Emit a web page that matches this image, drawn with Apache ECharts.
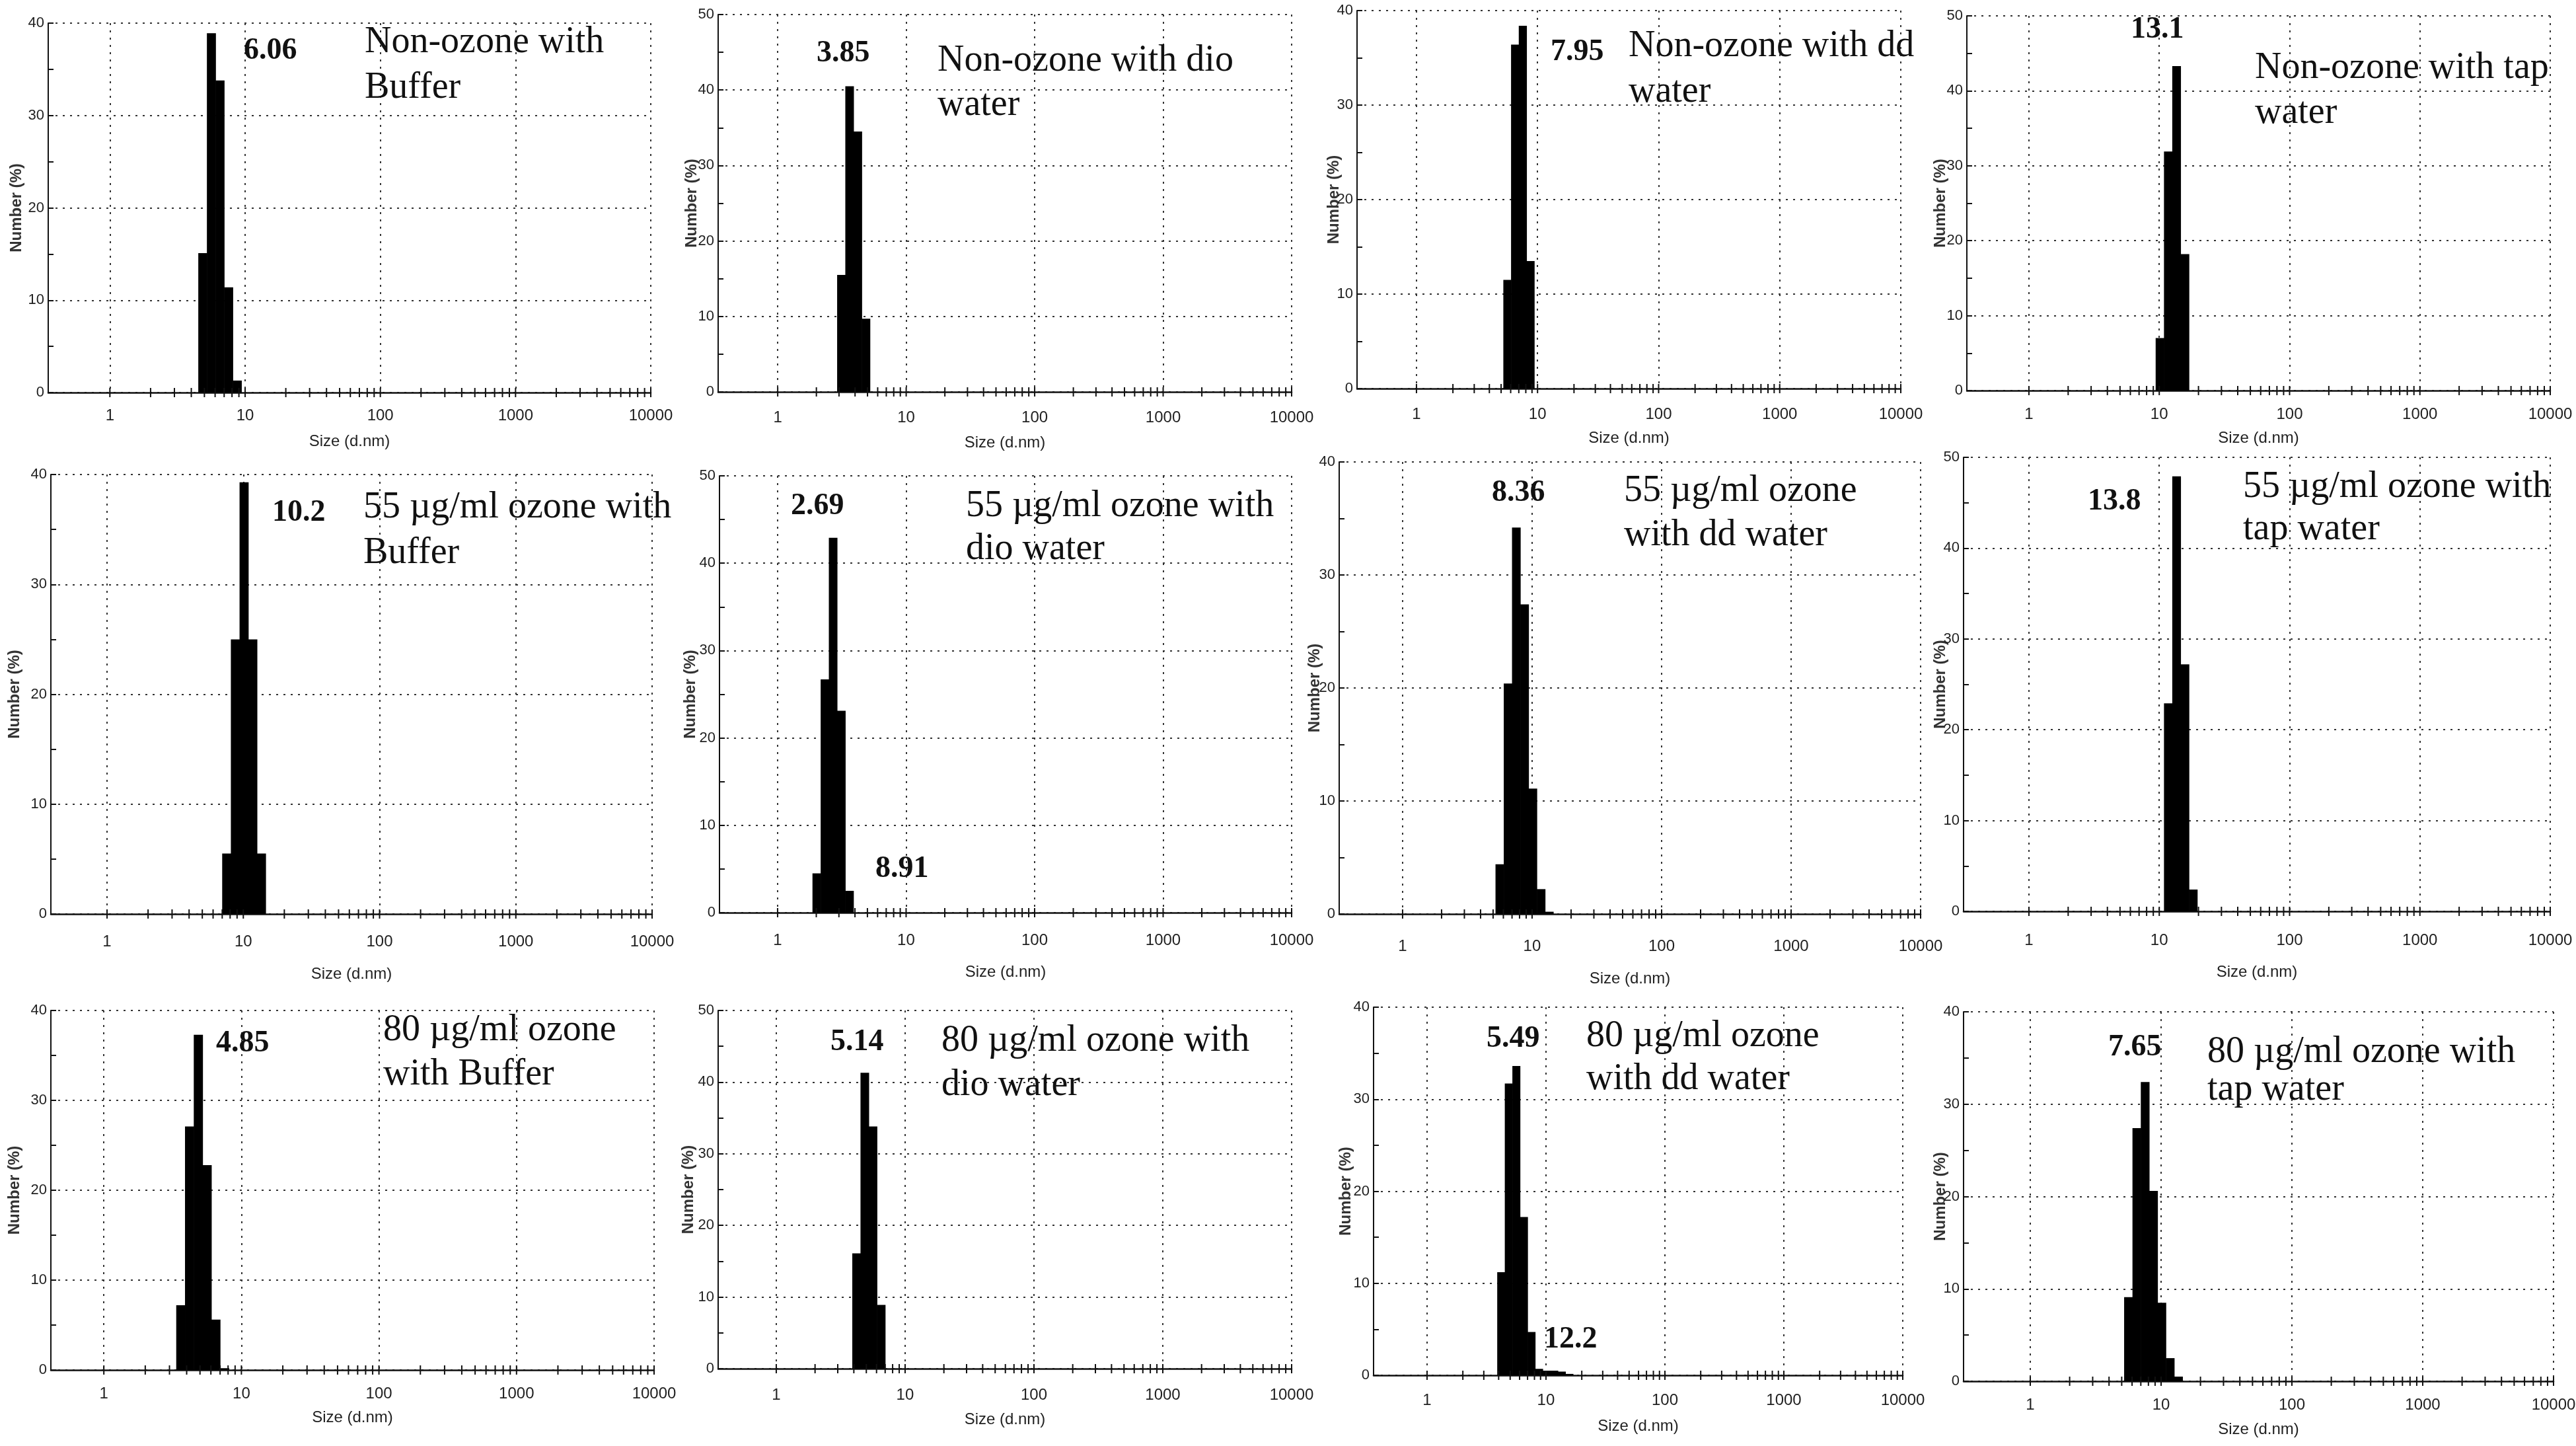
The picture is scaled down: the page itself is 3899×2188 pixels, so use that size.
<!DOCTYPE html>
<html><head><meta charset="utf-8">
<script src="https://cdn.jsdelivr.net/npm/echarts@6/dist/echarts.min.js"></script>
<style>html,body{margin:0;padding:0;background:#fff}#c{width:3899px;height:2188px}</style>
</head><body><div id="c"></div>
<script>
// ---------- DATA (size bins in d.nm, number %) ----------
const p1Sizes = [4.849, 5.615, 6.503, 7.531, 8.721];
const p1Values = [15.1, 38.9, 33.8, 11.4, 1.3];
const p2Sizes = [3.122, 3.615, 4.187, 4.849];
const p2Values = [15.5, 40.5, 34.5, 9.7];
const p3Sizes = [5.615, 6.503, 7.531, 8.721];
const p3Values = [11.5, 36.4, 38.4, 13.5];
const p4Sizes = [10.10, 11.70, 13.54, 15.69];
const p4Values = [7.0, 31.9, 43.3, 18.2];
const p5Sizes = [7.531, 8.721, 10.10, 11.70, 13.54];
const p5Values = [5.5, 25.0, 39.3, 25.0, 5.5];
const p6Sizes = [2.010, 2.328, 2.696, 3.122, 3.615];
const p6Values = [4.5, 26.7, 42.9, 23.1, 2.5];
const p7Sizes = [5.615, 6.503, 7.531, 8.721, 10.10, 11.70, 13.54];
const p7Values = [4.4, 20.4, 34.2, 27.4, 11.1, 2.2, 0.2];
const p8Sizes = [11.70, 13.54, 15.69, 18.17];
const p8Values = [22.9, 47.9, 27.2, 2.4];
const p9Sizes = [3.615, 4.187, 4.849, 5.615, 6.503, 7.531];
const p9Values = [7.2, 27.1, 37.3, 22.8, 5.6, 0.2];
const p10Sizes = [4.187, 4.849, 5.615, 6.503];
const p10Values = [16.1, 41.3, 33.8, 8.9];
const p11Sizes = [4.187, 4.849, 5.615, 6.503, 7.531, 8.721, 10.10, 11.70, 13.54, 15.69];
const p11Values = [11.2, 31.7, 33.6, 17.2, 4.7, 0.7, 0.5, 0.5, 0.4, 0.15];
const p12Sizes = [5.615, 6.503, 7.531, 8.721, 10.10, 11.70, 13.54];
const p12Values = [9.1, 27.4, 32.4, 20.6, 8.5, 2.5, 0.5];

const allSizes = [p1Sizes,p2Sizes,p3Sizes,p4Sizes,p5Sizes,p6Sizes,p7Sizes,p8Sizes,p9Sizes,p10Sizes,p11Sizes,p12Sizes];
const allValues = [p1Values,p2Values,p3Values,p4Values,p5Values,p6Values,p7Values,p8Values,p9Values,p10Values,p11Values,p12Values];

const yMaxes = [40, 50, 40, 50, 40, 50, 40, 50, 40, 50, 40, 40];
const xAxisName = "Size (d.nm)";
const yAxisName = "Number (%)";
// log-axis tick marks (major decades + minor 2..9)
const xTickValues = [1,2,3,4,5,6,7,8,9,10,20,30,40,50,60,70,80,90,100,200,300,400,500,600,700,800,900,1000,2000,3000,4000,5000,6000,7000,8000,9000,10000];

const titleLines = [
  ["Non-ozone with", "Buffer"],
  ["Non-ozone with dio", "water"],
  ["Non-ozone with dd", "water"],
  ["Non-ozone with tap", "water"],
  ["55 µg/ml ozone with", "Buffer"],
  ["55 µg/ml ozone with", "dio water"],
  ["55 µg/ml ozone", "with dd water"],
  ["55 µg/ml ozone with", "tap water"],
  ["80 µg/ml ozone", "with Buffer"],
  ["80 µg/ml ozone with", "dio water"],
  ["80 µg/ml ozone", "with dd water"],
  ["80 µg/ml ozone with", "tap water"]
];
const peakLabels = [["6.06"],["3.85"],["7.95"],["13.1"],["10.2"],["2.69","8.91"],["8.36"],["13.8"],["4.85"],["5.14"],["5.49","12.2"],["7.65"]];

// ---------- LAYOUT (pixels) ----------
const BIN_RATIO = 1.1583;
const layout = [
  {l:73,   r:985,  t:35,   b:594,  xMin:0.35,  lm:23, ng:62, yng:36},
  {l:1087, r:1955, t:22,   b:593,  xMin:0.344, lm:27, ng:65, yng:28},
  {l:2054, r:2877, t:16,   b:588,  xMin:0.323, lm:27, ng:63, yng:23},
  {l:2977, r:3860, t:24,   b:591,  xMin:0.334, lm:24, ng:60, yng:28},
  {l:77,   r:987,  t:718,  b:1383, xMin:0.387, lm:30, ng:79, yng:43},
  {l:1089, r:1955, t:720,  b:1381, xMin:0.353, lm:30, ng:78, yng:32},
  {l:2027, r:2907, t:699,  b:1383, xMin:0.324, lm:37, ng:86, yng:25},
  {l:2972, r:3860, t:692,  b:1379, xMin:0.315, lm:32, ng:80, yng:23},
  {l:77,   r:990,  t:1529, b:2073, xMin:0.412, lm:24, ng:60, yng:43},
  {l:1087, r:1955, t:1529, b:2071, xMin:0.354, lm:28, ng:65, yng:33},
  {l:2079, r:2880, t:1524, b:2081, xMin:0.355, lm:26, ng:65, yng:30},
  {l:2972, r:3865, t:1531, b:2090, xMin:0.309, lm:24, ng:61, yng:23}
];
const titlePos = [[552,64,133],[1419,92,159],[2465,70,139],[3413,103,171],[550,768,837],[1462,766,831],[2458,743,810],[3395,737,801],[580,1559,1626],[1425,1575,1642],[2401,1568,1633],[3341,1592,1649]];
const peakPos = [[[369,77]],[[1236,81]],[[2347,79]],[[3225,45]],[[412,776]],[[1197,766],[1325,1315]],[[2258,746]],[[3160,759]],[[327,1579]],[[1257,1577]],[[2250,1572],[2337,2027]],[[3191,1585]]];

const SANS = "'Liberation Sans Narrow','Liberation Sans',Arial,sans-serif";
const SERIF = "'Liberation Serif','Times New Roman',serif";

function barRender(params, api) {
  const s = api.value(0), v = api.value(1);
  const h = Math.sqrt(BIN_RATIO);
  const a = api.coord([s / h, v]);
  const b = api.coord([s * h, 0]);
  return {type:'rect', shape:{x:a[0], y:a[1], width:b[0]-a[0]+0.6, height:b[1]-a[1]}, style:{fill:'#000'}};
}
function tickRender(params, api) {
  const p = api.coord([api.value(0), 0]);
  return {type:'line', shape:{x1:p[0], y1:p[1]-7, x2:p[0], y2:p[1]+7}, style:{stroke:'#111', lineWidth:2}};
}

const grids = [], xAxes = [], yAxes = [], series = [], graphics = [];
layout.forEach((g, i) => {
  grids.push({left:g.l, top:g.t, width:g.r-g.l, height:g.b-g.t, containLabel:false, outerBoundsMode:'none'});
  xAxes.push({
    type:'log', logBase:10, gridIndex:i, min:g.xMin, max:10000,
    name:xAxisName, nameLocation:'middle', nameGap:g.ng,
    nameTextStyle:{fontFamily:SANS, fontSize:24, color:'#222'},
    axisLine:{show:true, onZero:false, lineStyle:{color:'#111', width:2.5}},
    axisTick:{show:false}, minorTick:{show:false},
    axisLabel:{show:true, margin:g.lm, fontFamily:SANS, fontSize:24, color:'#222', showMinLabel:false,
      formatter:v => v >= 0.999 ? String(Math.round(v)) : ''},
    splitLine:{show:true, lineStyle:{color:'#333', type:[3,8], width:2}}
  });
  yAxes.push({
    type:'value', gridIndex:i, min:0, max:yMaxes[i], interval:10,
    name:yAxisName, nameLocation:'middle', nameGap:g.yng, nameRotate:90, nameMoveOverlap:false,
    nameTextStyle:{fontFamily:"'Liberation Sans',Arial,sans-serif", fontSize:24, fontWeight:'bold', color:'#333'},
    axisLine:{show:true, lineStyle:{color:'#111', width:2}},
    axisTick:{show:true, inside:true, length:8, lineStyle:{color:'#111', width:2}},
    minorTick:{show:true, splitNumber:2, length:8, lineStyle:{color:'#111', width:2}},
    axisLabel:{margin:6, fontFamily:SANS, fontSize:22, color:'#222'},
    splitLine:{show:true, lineStyle:{color:'#333', type:[3,8], width:2}}
  });
  series.push({
    type:'custom', xAxisIndex:i, yAxisIndex:i, renderItem:barRender, encode:{x:0, y:1}, z:3,
    data: allSizes[i].map((s, k) => [s, allValues[i][k]])
  });
  series.push({
    type:'custom', xAxisIndex:i, yAxisIndex:i, renderItem:tickRender, encode:{x:0, y:1}, clip:false, silent:true, z:4,
    data: xTickValues.filter(t => t >= g.xMin).map(t => [t, 0])
  });
  const tp = titlePos[i];
  titleLines[i].forEach((line, k) => {
    graphics.push({type:'text', x:tp[0], y:tp[1+k], z:10,
      style:{text:line, fontFamily:SERIF, fontSize:56, fill:'#111', textAlign:'left', align:'left', textVerticalAlign:'middle', verticalAlign:'middle'}});
  });
  peakLabels[i].forEach((lab, k) => {
    const pp = peakPos[i][k];
    graphics.push({type:'text', x:pp[0], y:pp[1], z:10,
      style:{text:lab, fontFamily:SERIF, fontSize:46, fontWeight:'bold', fill:'#111', textAlign:'left', align:'left', textVerticalAlign:'middle', verticalAlign:'middle'}});
  });
});

const chart = echarts.init(document.getElementById('c'), null, {renderer:'canvas'});
chart.setOption({
  backgroundColor:'#fff',
  animation:false,
  grid:grids, xAxis:xAxes, yAxis:yAxes, series:series, graphic:graphics
});
</script></body></html>
